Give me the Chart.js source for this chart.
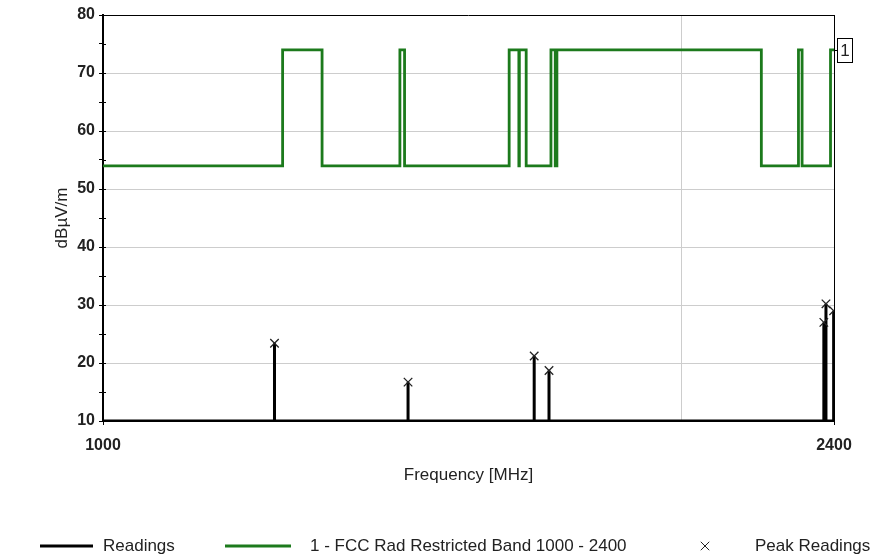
<!DOCTYPE html>
<html>
<head>
<meta charset="utf-8">
<script src="https://cdn.jsdelivr.net/npm/chart.js@4/dist/chart.umd.min.js"></script>
<style>
  html, body { margin: 0; padding: 0; background: #ffffff; }
  #wrap { width: 872px; height: 554px; }
</style>
</head>
<body>
<div id="wrap"><canvas id="c" width="872" height="554"></canvas></div>
<script>
// FCC restricted-band limit: level holds from each edge up to the next edge
const limitEdges  = [1000, 1240, 1300, 1427, 1435, 1626.5, 1645.5, 1646.5, 1660, 1710, 1718.8, 1722.2, 2200, 2300, 2310, 2390];
const limitLevels = [54,   74,   54,   74,   54,   74,     54,     74,     54,   74,   54,     74,     54,   74,   54,   74];
const limitEnd = 2400;

// Peak readings (MHz, dBµV/m)
const peakFreqs  = [1228, 1441, 1676, 1706, 2371, 2377, 2399];
const peakLevels = [23.4, 16.7, 21.2, 18.7, 27.0, 30.2, 29.0];

// Noise floor of the readings trace
const floorLevel = 10;

// Axis ticks
const xTickValues = [1000, 2000, 2400];
const xTickLabels = ['1000', '', '2400'];
const yTickValues = [10, 20, 30, 40, 50, 60, 70, 80];

const FONT = "'Liberation Sans', Arial, sans-serif";
const GREEN = '#1c7a1c';
const GRID = '#cdcdcd';

// Stepped limit line points
const limitData = limitEdges.map((e, i) => ({ x: e, y: limitLevels[i] }));
limitData.push({ x: limitEnd, y: limitLevels[limitLevels.length - 1] });

// Readings trace: floor with a spike at every peak
const readingsData = [{ x: limitEdges[0], y: floorLevel }];
peakFreqs.forEach((f, i) => {
  readingsData.push({ x: f, y: floorLevel }, { x: f, y: peakLevels[i] }, { x: f, y: floorLevel });
});
readingsData.push({ x: limitEnd, y: floorLevel });

const peakData = peakFreqs.map((f, i) => ({ x: f, y: peakLevels[i] }));

Chart.defaults.font.family = FONT;
Chart.defaults.font.size = 17;
Chart.defaults.color = '#222';

// Frame, inner tick halves, limit tag and legend
const decorations = {
  id: 'decorations',
  afterDraw(chart) {
    const { ctx, chartArea: a, scales } = chart;
    const ys = scales.y;
    ctx.save();
    ctx.strokeStyle = '#000';
    ctx.lineWidth = 1;
    ctx.beginPath();
    ctx.moveTo(a.left, Math.round(a.top) + 0.5);
    ctx.lineTo(a.right, Math.round(a.top) + 0.5);
    ctx.moveTo(Math.round(a.right) + 0.5, a.top);
    ctx.lineTo(Math.round(a.right) + 0.5, a.bottom + 4);
    // inner halves of the y tick marks
    ys.ticks.forEach(t => {
      const py = Math.round(ys.getPixelForValue(t.value)) + 0.5;
      ctx.moveTo(a.left, py);
      ctx.lineTo(a.left + 3, py);
    });
    ctx.stroke();

    // limit line tag "1"
    const tagY = ys.getPixelForValue(limitLevels[limitLevels.length - 1]);
    const bx = Math.round(a.right) + 3.5, bw = 15, bh = 24;
    const by = Math.round(tagY - bh / 2) + 0.5;
    ctx.beginPath();
    ctx.moveTo(a.right, Math.round(tagY) + 0.5);
    ctx.lineTo(bx, Math.round(tagY) + 0.5);
    ctx.stroke();
    ctx.fillStyle = '#fff';
    ctx.fillRect(bx, by, bw, bh);
    ctx.strokeRect(bx, by, bw, bh);
    ctx.fillStyle = '#222';
    ctx.font = '17px ' + FONT;
    ctx.textAlign = 'center';
    ctx.textBaseline = 'middle';
    ctx.fillText('1', bx + bw / 2, by + bh / 2 + 1);

    // legend
    const ly = 546;
    ctx.textAlign = 'left';
    ctx.font = '17px ' + FONT;
    const ds = chart.data.datasets;
    ctx.lineWidth = 3;
    ctx.strokeStyle = ds[1].borderColor;
    ctx.beginPath(); ctx.moveTo(40, ly); ctx.lineTo(93, ly); ctx.stroke();
    ctx.fillText(ds[1].label, 103, ly);
    ctx.strokeStyle = ds[0].borderColor;
    ctx.beginPath(); ctx.moveTo(225, ly); ctx.lineTo(291, ly); ctx.stroke();
    ctx.fillText(ds[0].label, 310, ly);
    ctx.strokeStyle = '#222';
    ctx.fillStyle = '#222';
    ctx.lineWidth = 1;
    Chart.helpers.drawPoint(ctx, { pointStyle: 'crossRot', radius: 6, borderWidth: 1 }, 705, ly);
    ctx.fillText(ds[2].label, 755, ly);
    ctx.restore();
  }
};

new Chart(document.getElementById('c'), {
  type: 'scatter',
  data: {
    datasets: [
      {
        label: '1 - FCC Rad Restricted Band 1000 - 2400',
        data: limitData,
        showLine: true,
        stepped: 'before',
        borderColor: GREEN,
        borderWidth: 2.8,
        pointRadius: 0,
        order: 3
      },
      {
        label: 'Readings',
        data: readingsData,
        showLine: true,
        borderColor: '#000',
        borderWidth: 3,
        pointRadius: 0,
        order: 2
      },
      {
        label: 'Peak Readings',
        data: peakData,
        showLine: false,
        pointStyle: 'crossRot',
        pointRadius: 6,
        pointBorderWidth: 1.3,
        borderColor: '#222',
        backgroundColor: '#222',
        order: 1
      }
    ]
  },
  options: {
    responsive: false,
    animation: false,
    events: [],
    layout: { padding: { top: 15, right: 38, left: 0, bottom: 0 } },
    plugins: { legend: { display: false }, tooltip: { enabled: false } },
    scales: {
      x: {
        type: 'logarithmic',
        min: 1000,
        max: 2400,
        afterBuildTicks: s => { s.ticks = xTickValues.map(v => ({ value: v })); },
        afterFit: s => { s.height = 133; },
        ticks: {
          autoSkip: false,
          maxRotation: 0,
          padding: 11,
          color: '#222',
          font: { size: 16, weight: 'bold' },
          callback: (v) => xTickLabels[xTickValues.indexOf(v)] ?? ''
        },
        grid: {
          color: c => (c.tick && xTickLabels[xTickValues.indexOf(c.tick.value)] === '' ? GRID : 'rgba(0,0,0,0)'),
          tickColor: c => (c.tick && xTickLabels[xTickValues.indexOf(c.tick.value)] !== '' ? '#000' : 'rgba(0,0,0,0)'),
          tickLength: 4,
          lineWidth: 1
        },
        border: { display: true, color: '#000', width: 1 },
        title: { display: true, text: 'Frequency [MHz]', font: { size: 17 }, color: '#222', padding: { top: 0, bottom: 68 } }
      },
      y: {
        min: yTickValues[0],
        max: yTickValues[yTickValues.length - 1],
        afterBuildTicks: s => {
          const t = [];
          yTickValues.forEach((v, i) => {
            t.push({ value: v });
            if (i < yTickValues.length - 1) t.push({ value: (v + yTickValues[i + 1]) / 2 });
          });
          s.ticks = t;
        },
        afterFit: s => { s.width = 103; },
        ticks: {
          autoSkip: false,
          padding: 4,
          color: '#222',
          font: { size: 16, weight: 'bold' },
          callback: v => (yTickValues.includes(v) ? String(v) : '')
        },
        grid: {
          color: c => (c.tick && yTickValues.includes(c.tick.value) && c.tick.value > yTickValues[0] && c.tick.value < yTickValues[yTickValues.length - 1] ? GRID : 'rgba(0,0,0,0)'),
          tickColor: '#000',
          tickLength: 4,
          lineWidth: 1
        },
        border: { display: true, color: '#000', width: 2 },
        title: { display: true, text: 'dBµV/m', font: { size: 17 }, color: '#222', padding: { top: 52, bottom: 0 } }
      }
    }
  },
  plugins: [decorations]
});
</script>
</body>
</html>
